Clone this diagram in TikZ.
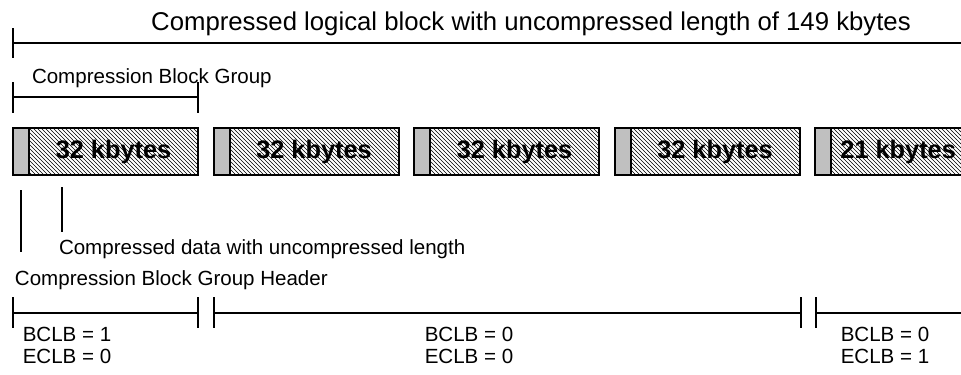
\documentclass[tikz,border=0pt]{standalone}
\usepackage{fontspec}
\setmainfont{Liberation Sans}
\usepackage{xcolor}
\usetikzlibrary{positioning, patterns}
\definecolor{hdrgray}{HTML}{C0C0C0}

\begin{document}
\begin{tikzpicture}[x=0.75pt, y=-0.75pt, line width=1.5pt,
    hdr/.style={draw, fill=hdrgray, outer sep=0pt, inner sep=0pt,
                minimum width=12pt, minimum height=35.25pt, anchor=north west},
    data/.style={draw, pattern=north west lines, outer sep=0pt, inner sep=0pt,
                 minimum width=126.75pt, minimum height=35.25pt},
    size/.style={inner sep=0pt, font=\fontsize{19}{21}\selectfont\bfseries},
    lbl/.style={inner sep=0pt, font=\fontsize{15.4}{16}\selectfont}]
  \useasboundingbox (0,0) rectangle (961,375);

  % whole logical block
  \node[lbl, font=\fontsize{19.3}{21}\selectfont, anchor=base] (total) at (531,30)
    {Compressed logical block with uncompressed length of 149 kbytes};
  \coordinate (t0) at (13,43);
  \coordinate (t1) at (961,43);
  \draw (t0) -- (t1);
  \draw (13,28) -- (13,58);

  % one group
  \node[lbl, anchor=base west] (grp) at (31,83) {Compression Block Group};
  \coordinate (g0) at (13,97);
  \coordinate (g1) at (198,97);
  \draw (g0) -- (g1);
  \draw (13,82) -- (13,113);
  \draw (198,82) -- (198,113);

  % the blocks
  \foreach \i/\k/\dx in {1/32/0, 2/32/0, 3/32/0, 4/32/0, 5/21/-13pt}{
    \node[hdr] (hdr\i) at ({13+(\i-1)*200.5},128) {};
    \node[data, right=0pt of hdr\i] (blk\i) {};
    \node[size] (len\i) at ([xshift=\dx]blk\i.center) {\k\ kbytes};
  }

  % pointers to header and data
  \draw ([yshift=-11.25pt]hdr1.south) -- ++(0,62);
  \draw ([xshift=25pt, yshift=-9pt]blk1.south west) -- ++(0,45);
  \node[lbl, anchor=base west] (cdata) at (58,254)
    {Compressed data with uncompressed length};
  \node[lbl, anchor=base west] (chdr) at (14,285)
    {Compression Block Group Header};

  % BCLB / ECLB ranges
  \coordinate (s0) at (13,313);
  \coordinate (s1) at (198,313);
  \coordinate (s2) at (214,313);
  \coordinate (s3) at (801,313);
  \coordinate (s4) at (816,313);
  \coordinate (s5) at (961,313);
  \draw (s0) -- (s1);
  \draw (s2) -- (s3);
  \draw (s4) -- (s5);
  \foreach \x in {13, 198, 214, 801, 816}
    \draw (\x,297) -- (\x,328);

  \node[lbl, anchor=base, align=center] (flg1) at (67,363) {BCLB = 1\\ECLB = 0};
  \node[lbl, anchor=base, align=center] (flg2) at (469,363) {BCLB = 0\\ECLB = 0};
  \node[lbl, anchor=base, align=center] (flg3) at (885,363) {BCLB = 0\\ECLB = 1};
\end{tikzpicture}
\end{document}
